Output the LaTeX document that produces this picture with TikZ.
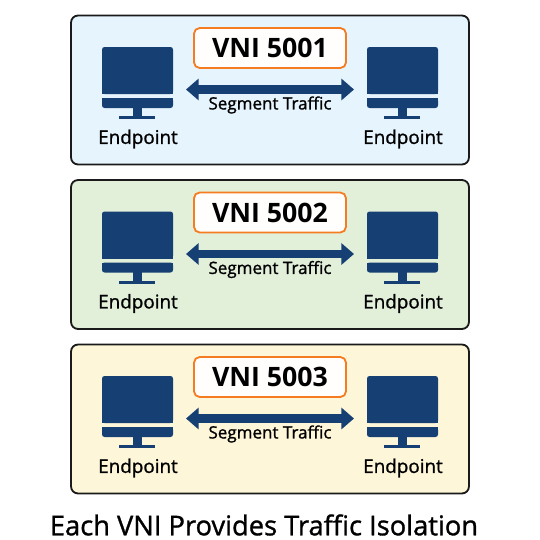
\documentclass[tikz,border=0pt]{standalone}
\usepackage{fontspec}
\setmainfont{Open Sans}
\newfontfamily\mediumfont[FakeBold=1.1]{Open Sans}
\usepackage{xcolor}
\usetikzlibrary{arrows.meta, positioning, calc}
\definecolor{navy}{RGB}{22,63,115}
\definecolor{accent}{RGB}{245,124,32}
\definecolor{softblue}{RGB}{230,244,253}
\definecolor{softgreen}{RGB}{226,240,218}
\definecolor{softyellow}{RGB}{254,246,216}
\definecolor{ink}{RGB}{26,26,26}
\tikzset{
  panel/.style={draw=ink, line width=1.3pt, rounded corners=5pt, minimum width=398*0.711pt, minimum height=149*0.711pt, inner sep=0pt},
  vnibox/.style={draw=accent, line width=1.3pt, fill=white!70!accent!3, rounded corners=4pt, minimum width=152*0.711pt, minimum height=40*0.711pt, inner sep=0pt, text=black, font=\fontsize{19}{20}\selectfont\bfseries},
  endlabel/.style={font=\fontsize{13.4}{14}\selectfont\mediumfont, text=black},
  seglabel/.style={font=\fontsize{12.1}{13}\selectfont\mediumfont, text=black},
  traffic/.style={navy, line width=6pt, {Triangle[length=9pt,width=15pt]}-{Triangle[length=9pt,width=15pt]}, shorten <=0pt, shorten >=0pt},
}
% one monitor, the stand hangs below the screen
\newcommand{\monitor}[3]{%
  \fill[navy, rounded corners=1.8pt] (#2,#3+47) -- (#2+71,#3+47) -- (#2+71,#3+94) -- (#2,#3+94) -- cycle;
  \fill[navy] (#2,#3+90) rectangle (#2+71,#3+94);
  \fill[navy, rounded corners=1.8pt] (#2,#3+98) -- (#2+71,#3+98) -- (#2+71,#3+108) -- (#2,#3+108) -- cycle;
  \fill[navy] (#2,#3+98) rectangle (#2+71,#3+102);
  \fill[navy] (#2+31,#3+107) rectangle (#2+40,#3+116);
  \fill[navy] (#2+17,#3+116) rectangle (#2+53,#3+119);
  \node[endlabel] (#1) at (#2+36,#3+139) {Endpoint};
}
\begin{document}
\begin{tikzpicture}[x=0.025cm, y=-0.025cm]
  \useasboundingbox (0,0) rectangle (540,540);
  \fill[white] (0,0) rectangle (540,540);
  % Segments
  \foreach \n/\dy/\col in {5001/0/softblue, 5002/164.5/softgreen, 5003/329/softyellow} {
    \node[panel, fill=\col] (panel\n) at (270,90+\dy) {};
    \node[vnibox] (vni\n) at (270,48+\dy) {VNI \n};
    \monitor{left\n}{102}{\dy}
    \monitor{right\n}{367}{\dy}
    \coordinate (a\n) at (186,89.5+\dy);
    \coordinate (b\n) at (354,89.5+\dy);
    \draw[traffic] (a\n) -- (b\n);
    \node[seglabel] (seg\n) at (270,105+\dy) {Segment Traffic};
  }
  % Title
  \node[font=\fontsize{19.4}{20}\selectfont\mediumfont, text=black] (title) at (264,525) {Each VNI Provides Traffic Isolation};
\end{tikzpicture}
\end{document}
